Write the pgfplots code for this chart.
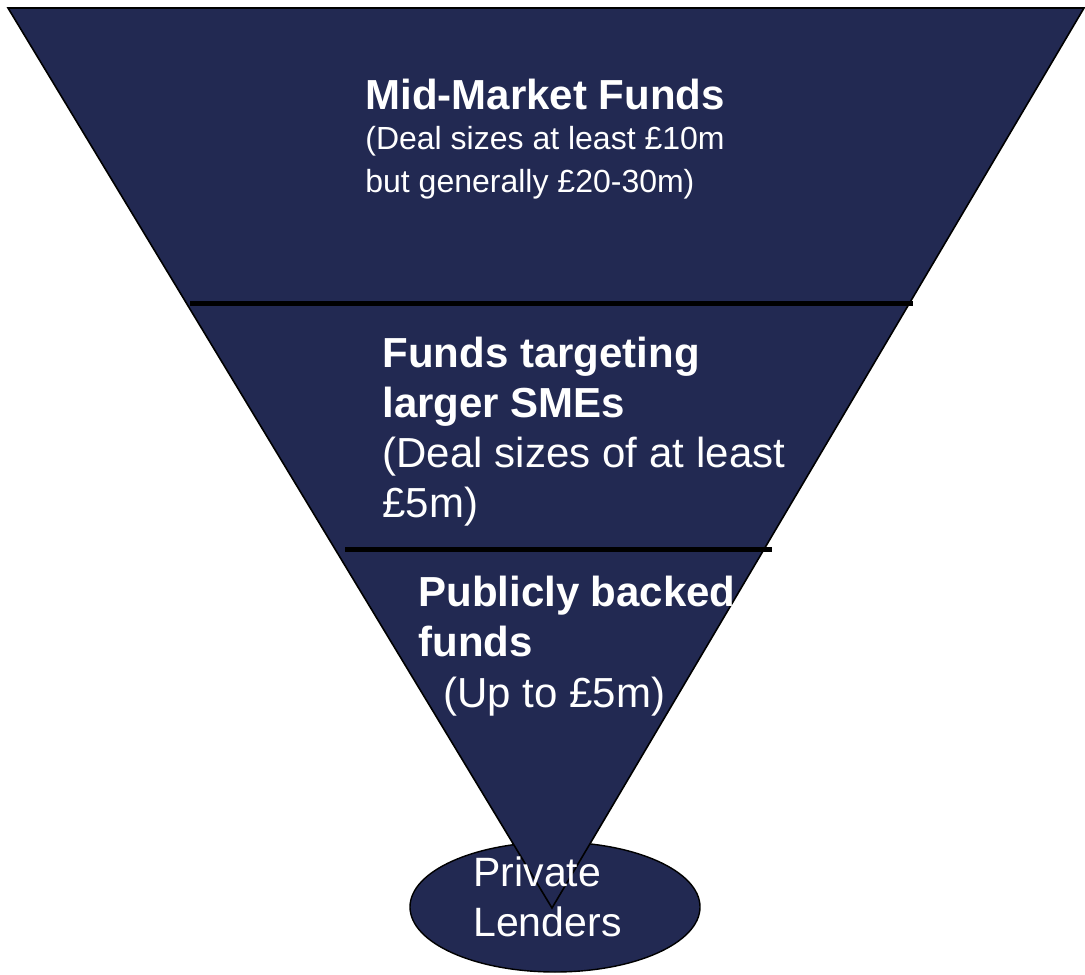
\documentclass[border=0pt]{standalone}
\usepackage{pgfplots}
\pgfplotsset{compat=1.18}
\usepackage{fontspec}
\setmainfont{Liberation Sans}
\definecolor{navy}{RGB}{34,41,82}
\begin{document}
\begin{tikzpicture}
\begin{axis}[
  scale only axis, width=542.5pt, height=487pt,
  xmin=0, xmax=1085, ymin=0, ymax=974,
  hide axis, clip=false,
]
% ellipse (Private Lenders)
\draw[fill=navy, draw=black, line width=0.7pt] (axis cs:555,67) ellipse [x radius=145, y radius=65];
% funnel triangle
\addplot[fill=navy, draw=black, line width=0.8pt] coordinates {(8,966) (1084,966) (552,66)} -- cycle;
% dividing lines
\addplot[black, line width=2.5pt] coordinates {(190,670) (913,670)};
\addplot[black, line width=2.5pt] coordinates {(345,424) (772,424)};
% frame for bounding box
\path (axis cs:0,0) rectangle (axis cs:1085,974);
% texts
\tikzset{lab/.style={anchor=base west, inner sep=0pt, text=white}}
\node[lab, font=\fontsize{21}{25}\selectfont\bfseries] at (axis cs:365,864) {Mid-Market Funds};
\node[lab, font=\fontsize{16}{20}\selectfont] at (axis cs:365,824) {(Deal sizes at least £10m};
\node[lab, font=\fontsize{16}{20}\selectfont] at (axis cs:365,781) {but generally £20-30m)};
\node[lab, font=\fontsize{21}{25}\selectfont\bfseries] at (axis cs:382,606) {Funds targeting};
\node[lab, font=\fontsize{21}{25}\selectfont\bfseries] at (axis cs:382,556) {larger SMEs};
\node[lab, font=\fontsize{21}{25}\selectfont] at (axis cs:382,506) {\makebox[201.5pt][s]{(Deal sizes of at least}};
\node[lab, font=\fontsize{21}{25}\selectfont] at (axis cs:382,456) {£5m)};
\node[lab, font=\fontsize{21}{25}\selectfont\bfseries] at (axis cs:418,367) {\makebox[158.5pt][s]{Publicly backed}};
\node[lab, font=\fontsize{21}{25}\selectfont\bfseries] at (axis cs:418,317) {funds};
\node[lab, font=\fontsize{21}{25}\selectfont] at (axis cs:443,266) {(Up to £5m)};
\node[lab, font=\fontsize{20.5}{25}\selectfont] at (axis cs:473,88) {Private};
\node[lab, font=\fontsize{20.5}{25}\selectfont] at (axis cs:473,38) {Lenders};
\end{axis}
\end{tikzpicture}
\end{document}
